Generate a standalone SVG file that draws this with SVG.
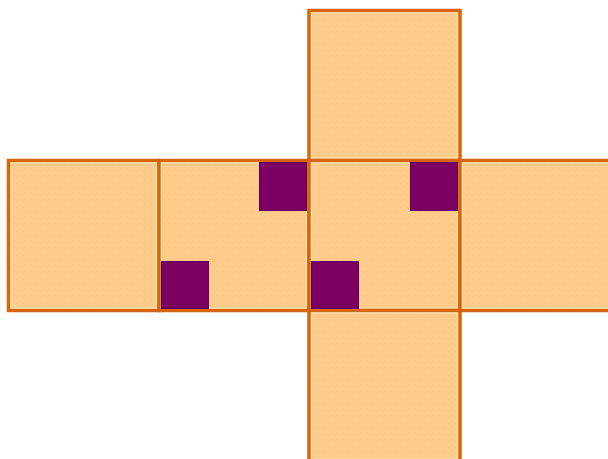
<svg xmlns="http://www.w3.org/2000/svg" width="608" height="459" viewBox="0 0 608 459">
<defs>
<pattern id="tex" width="6" height="6" patternUnits="userSpaceOnUse">
<rect width="6" height="6" fill="#FFCC8C"/>
<rect x="1" y="1" width="1" height="1" fill="#F8C384"/>
<rect x="4" y="3" width="1" height="1" fill="#F8C384"/>
<rect x="2" y="4" width="1" height="1" fill="#FFD294"/>
</pattern>
<style>
.face{fill:url(#tex);stroke:#D8650C;stroke-width:3.5}
.hl{fill:none;stroke:#FFE3AE;stroke-width:1.2}
.dot{fill:#7B0062;stroke:#5E0062;stroke-width:1}
</style>
</defs>
<g id="face-top"><rect class="face" x="309" y="10.5" width="151" height="150"/><rect class="hl" x="311.5" y="13" width="146" height="145"/></g>
<g id="face-left"><rect class="face" x="8.5" y="160.5" width="150.5" height="150"/><rect class="hl" x="11" y="163" width="145.5" height="145"/></g>
<g id="face-midleft"><rect class="face" x="159" y="160.5" width="150" height="150"/><rect class="hl" x="161.5" y="163" width="145" height="145"/></g>
<g id="face-center"><rect class="face" x="309" y="160.5" width="151" height="150"/><rect class="hl" x="311.5" y="163" width="146" height="145"/></g>
<g id="face-right"><rect class="face" x="460" y="160.5" width="151" height="150"/><rect class="hl" x="462.5" y="163" width="146" height="145"/></g>
<g id="face-bottom"><rect class="face" x="309" y="310.5" width="151" height="151"/><rect class="hl" x="311.5" y="313" width="146" height="146"/></g>
<g id="marks">
<rect class="dot" x="259.5" y="162.5" width="47" height="48"/>
<rect class="dot" x="161.5" y="261.5" width="47" height="47"/>
<rect class="dot" x="410.5" y="162.5" width="47" height="48"/>
<rect class="dot" x="311.5" y="261.5" width="47" height="47"/>
</g>
<g id="connectors"></g>
</svg>
